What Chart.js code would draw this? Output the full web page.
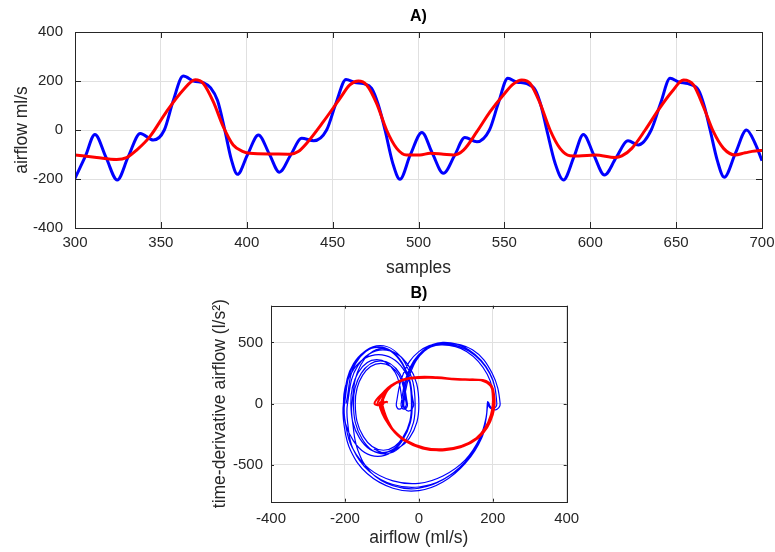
<!DOCTYPE html>
<html><head><meta charset="utf-8">
<script src="https://cdn.jsdelivr.net/npm/chart.js@4.4.1/dist/chart.umd.min.js"></script>
<style>
html,body{margin:0;padding:0;background:#fff;}
body{width:775px;height:552px;position:relative;overflow:hidden;}
canvas{position:absolute;left:0;}
#c1{top:0;} #c2{top:280px;}
</style></head><body>
<canvas id="c1" width="775" height="280"></canvas>
<canvas id="c2" width="775" height="272"></canvas>
<script>
// ---------- Panel A data (samples vs airflow, ml/s) ----------
const xTicksA = [300,350,400,450,500,550,600,650,700];
const yTicksA = [-400,-200,0,200,400];
const blueSamples = [300,306,311.6,318,324.6,331,338,345.6,352,357,363,369,375,379,383,387.2,391,394.6,400.5,406.8,413,419,425.5,432,439,446.5,452,457.8,463,468,472.7,476.5,480.5,485,489.2,495.2,502,508,514.5,521,527,534,541.3,546.5,552,557,563,568,571.5,574.7,579.5,584.4,590.5,596,602,608.3,615,622,628,635.5,641,646.5,651.5,657,663,666.5,669.8,674,678,684.5,691,696,700];
const blueFlow = [-197,-108,-18,-111,-204,-109,-14,-41,0,115,220,200,192,172,120,0,-120,-181,-100,-20,-96,-172,-103,-34,-44,0,110,206,194,189,170,105,0,-135,-201,-102,-10,-94,-177,-104,-31,-48,0,110,211,196,189,163,95,0,-135,-204,-110,-18,-101,-184,-114,-44,-61,0,110,211,196,189,163,95,0,-125,-193,-95,0,-55,-125];
const redSamples = [300,312.6,324.2,330,335.9,343.6,353.3,363,370,374.7,380.5,386.3,392.1,397.9,401.8,415.5,425.2,430,434.9,444.6,454.3,460,465,469.8,475.6,481.4,487.3,493,500.8,506.8,514.5,520.4,526.2,534,541.7,549.4,555.3,560.1,565,570.8,576.6,582.4,588.2,593.2,603,614.5,618.4,624.2,632,639.7,647.5,654.3,660.1,665.9,671.7,677.6,684.4,690.2,698.9,700];
const redFlow = [-102,-112,-120,-113,-82,-27,75,163,205,190,116,14,-61,-88,-95,-98,-99,-88,-54,34,129,184,200,184,109,0,-75,-102,-102,-95,-99,-102,-82,-7,75,143,188,204,190,109,0,-75,-105,-106,-102,-112,-106,-75,0,82,156,204,184,95,-7,-75,-102,-93,-84,-84];

// ---------- Panel B data (airflow vs time-derivative) ----------
const xTicksB = [-400,-200,0,200,400];
const yTicksB = [-500,0,500];
const phaseBlue = [
 [-197,0],[-171,329],[-108,465],[-44,329],[-18,0],
 [-45,-304],[-111,-430],[-177,-304],[-204,0],
 [-176,283],[-109,400],[-42,283],[-14,0],
 [-18,-42],[-28,-60],[-37,-42],[-41,0],
 [-23,250],[15,430],[70,495],[145,440],[198,250],[220,0],
 [208,-50],[194,-25],[188,10],
 [182,-120],[170,-280],[130,-470],[70,-610],[0,-690],[-70,-670],[-130,-560],[-165,-380],[-178,-180],[-181,0],
 [-157,318],[-100,450],[-43,318],[-20,0],
 [-42,-269],[-96,-380],[-150,-269],[-172,0],
 [-152,233],[-103,330],[-54,233],[-34,0],
 [-36,-25],[-39,-35],[-42,-25],[-44,0],
 [-28,240],[8,415],[60,480],[130,425],[185,240],[204,0],
 [195,-40],[188,-15],[186,10],
 [182,-110],[165,-280],[125,-460],[65,-590],[0,-650],[-70,-630],[-135,-530],[-180,-360],[-198,-170],[-201,0],
 [-173,336],[-105,475],[-38,336],[-10,0],
 [-34,-290],[-94,-410],[-153,-290],[-177,0],
 [-156,247],[-104,350],[-52,247],[-31,0],
 [-33,-32],[-40,-45],[-46,-32],[-48,0],
 [-30,250],[10,430],[65,500],[135,440],[192,250],[211,0],
 [200,-45],[190,-20],[186,15],
 [182,-120],[165,-300],[125,-490],[65,-640],[0,-710],[-70,-690],[-140,-570],[-185,-380],[-202,-180],[-204,0],
 [-177,325],[-111,460],[-45,325],[-18,0],
 [-42,-283],[-101,-400],[-160,-283],[-184,0],
 [-164,255],[-114,360],[-64,255],[-44,0],
 [-46,-32],[-53,-45],[-59,-32],[-61,0],
 [-42,245],[0,425],[60,490],[135,430],[192,245],[211,0],
 [200,-45],[190,-20],[186,15],
 [182,-115],[165,-290],[125,-475],[65,-620],[0,-680],[-70,-660],[-135,-550],[-178,-370],[-192,-170],[-193,0],
 [-165,311],[-97,440],[-28,311],[0,0],[-26,-283],[-90,-400],[-122,-370]
];
const phaseRed = [
 [-102,-8],[-112,-12],[-120,0],[-114,35],[-100,80],[-75,150],[-40,198],[0,215],[50,212],[100,200],[150,195],[182,185],[198,140],[204,60],[205,0],
 [200,-90],[185,-195],[160,-282],[120,-348],[70,-380],[20,-370],[-30,-315],[-65,-230],[-85,-130],[-95,-50],[-99,-5],
 [-100,0],[-96,40],[-80,130],[-50,190],[0,218],[50,215],[100,202],[150,196],[182,186],[196,140],[200,60],[200,0],
 [195,-90],[180,-195],[155,-282],[115,-345],[65,-372],[15,-360],[-35,-300],[-70,-210],[-92,-110],[-102,-30],[-106,0],
 [-100,15],[-96,0],[-100,-10],[-103,0],[-95,60],[-75,140],[-45,190],[0,212],[50,210],[100,198],[150,193],[180,185],[196,140],[203,60],[204,0],
 [199,-90],[184,-195],[158,-280],[118,-345],[68,-378],[18,-366],[-32,-310],[-68,-222],[-92,-120],[-104,-40],[-106,0],
 [-104,5],[-102,0],[-108,-10],[-112,0],[-106,40],[-90,100],[-60,175],[-20,205],[30,212],[80,205],[130,197],[170,190],[194,145],[202,60],[204,0],
 [199,-95],[183,-200],[155,-290],[113,-355],[62,-380],[10,-365],[-40,-300],[-75,-200],[-95,-90],[-102,-20],[-102,0],
 [-98,25],[-93,10],[-88,15],[-84,10]
];

// ---------- styling ----------
const FONT = '"Liberation Sans", Arial, Helvetica, sans-serif';
const GRID = '#e0e0e0';
const TXT = '#262626';
const TICKSIZE = 15;

const boxPlugin = {
  id: 'matlabBox',
  afterDatasetsDraw(chart, args, opts) {
    const {ctx, chartArea: a, scales} = chart;
    const L = opts.len || 5;
    ctx.save();
    ctx.strokeStyle = TXT; ctx.lineWidth = 1;
    ctx.beginPath();
    scales.x.ticks.forEach(t => {
      const px = Math.round(scales.x.getPixelForValue(t.value)) + 0.5;
      ctx.moveTo(px, a.bottom); ctx.lineTo(px, a.bottom - L);
      ctx.moveTo(px, a.top); ctx.lineTo(px, a.top + L);
    });
    scales.y.ticks.forEach(t => {
      const py = Math.round(scales.y.getPixelForValue(t.value)) + 0.5;
      ctx.moveTo(a.left, py); ctx.lineTo(a.left + L, py);
      ctx.moveTo(a.right, py); ctx.lineTo(a.right - L, py);
    });
    ctx.stroke();
    ctx.strokeRect(Math.round(a.left) + 0.5, Math.round(a.top) + 0.5, Math.round(a.right - a.left), Math.round(a.bottom - a.top));
    ctx.restore();
  }
};

function tickSetter(arr) { return s => { s.ticks = arr.map(v => ({value: v})); }; }
function fitX(h) { return s => { s.height = h; s.paddingLeft = 0; s.paddingRight = 0; }; }
function fitY(w) { return s => { s.width = w; s.paddingTop = 0; s.paddingBottom = 0; }; }

new Chart(document.getElementById('c1'), {
  type: 'line',
  data: { datasets: [
    { data: redSamples.map((s, i) => ({x: s, y: redFlow[i]})), borderColor: '#ff0000', borderWidth: 3, pointRadius: 0, cubicInterpolationMode: 'monotone', fill: false },
    { data: blueSamples.map((s, i) => ({x: s, y: blueFlow[i]})), borderColor: '#0000ff', borderWidth: 3, pointRadius: 0, cubicInterpolationMode: 'monotone', fill: false }
  ]},
  options: {
    responsive: false, animation: false, devicePixelRatio: 1,
    layout: { padding: { left: 0, right: 13, top: 0, bottom: 0 } },
    plugins: {
      legend: { display: false }, tooltip: { enabled: false },
      title: { display: true, text: 'A)', fullSize: false, color: '#000', font: { family: FONT, size: 16, weight: 'bold' }, padding: { top: 7.4, bottom: 5.4 } },
      matlabBox: { len: 6 }
    },
    scales: {
      x: { type: 'linear', min: 300, max: 700, afterBuildTicks: tickSetter(xTicksA), afterFit: fitX(52),
        grid: { color: GRID, drawTicks: false }, border: { display: false },
        ticks: { font: { family: FONT, size: TICKSIZE }, color: TXT, padding: 6, maxRotation: 0 },
        title: { display: true, text: 'samples', color: TXT, font: { family: FONT, size: 17.5 }, padding: { top: 0, bottom: 1.5 } } },
      y: { type: 'linear', min: -400, max: 400, afterBuildTicks: tickSetter(yTicksA), afterFit: fitY(75),
        grid: { color: GRID, drawTicks: false }, border: { display: false },
        ticks: { font: { family: FONT, size: TICKSIZE }, color: TXT, padding: 12 },
        title: { display: true, text: 'airflow ml/s', color: TXT, font: { family: FONT, size: 17.5 }, padding: { top: 11.5, bottom: 0 } } }
    }
  },
  plugins: [boxPlugin]
});

new Chart(document.getElementById('c2'), {
  type: 'scatter',
  data: { datasets: [
    { data: phaseRed.map(p => ({x: p[0], y: p[1]})), showLine: true, borderColor: '#ff0000', borderWidth: 2, pointRadius: 0, tension: 0.4, fill: false },
    { data: phaseBlue.map(p => ({x: p[0], y: p[1]})), showLine: true, borderColor: '#0000ff', borderWidth: 1.2, pointRadius: 0, tension: 0.4, fill: false }
  ]},
  options: {
    responsive: false, animation: false, devicePixelRatio: 1,
    layout: { padding: { left: 190, right: 208.3, top: 0, bottom: 0 } },
    plugins: {
      legend: { display: false }, tooltip: { enabled: false },
      title: { display: true, text: 'B)', fullSize: false, color: '#000', font: { family: FONT, size: 16, weight: 'bold' }, padding: { top: 3.7, bottom: 2.8 } },
      matlabBox: { len: 3 }
    },
    scales: {
      x: { type: 'linear', min: -400, max: 400, afterBuildTicks: tickSetter(xTicksB), afterFit: fitX(50.3),
        grid: { color: GRID, drawTicks: false }, border: { display: false },
        ticks: { font: { family: FONT, size: TICKSIZE }, color: TXT, padding: 8.5, maxRotation: 0 },
        title: { display: true, text: 'airflow (ml/s)', color: TXT, font: { family: FONT, size: 17.5 }, padding: { top: 0, bottom: 3.5 } } },
      y: { type: 'linear', min: -800, max: 800, afterBuildTicks: tickSetter(yTicksB), afterFit: fitY(81),
        grid: { color: GRID, drawTicks: false }, border: { display: false },
        ticks: { font: { family: FONT, size: TICKSIZE }, color: TXT, padding: 8 },
        title: { display: true, text: 'time-derivative airflow (l/s²)', color: TXT, font: { family: FONT, size: 17.5 }, padding: { top: 19.5, bottom: 0 } } }
    }
  },
  plugins: [boxPlugin]
});
</script>
</body></html>
